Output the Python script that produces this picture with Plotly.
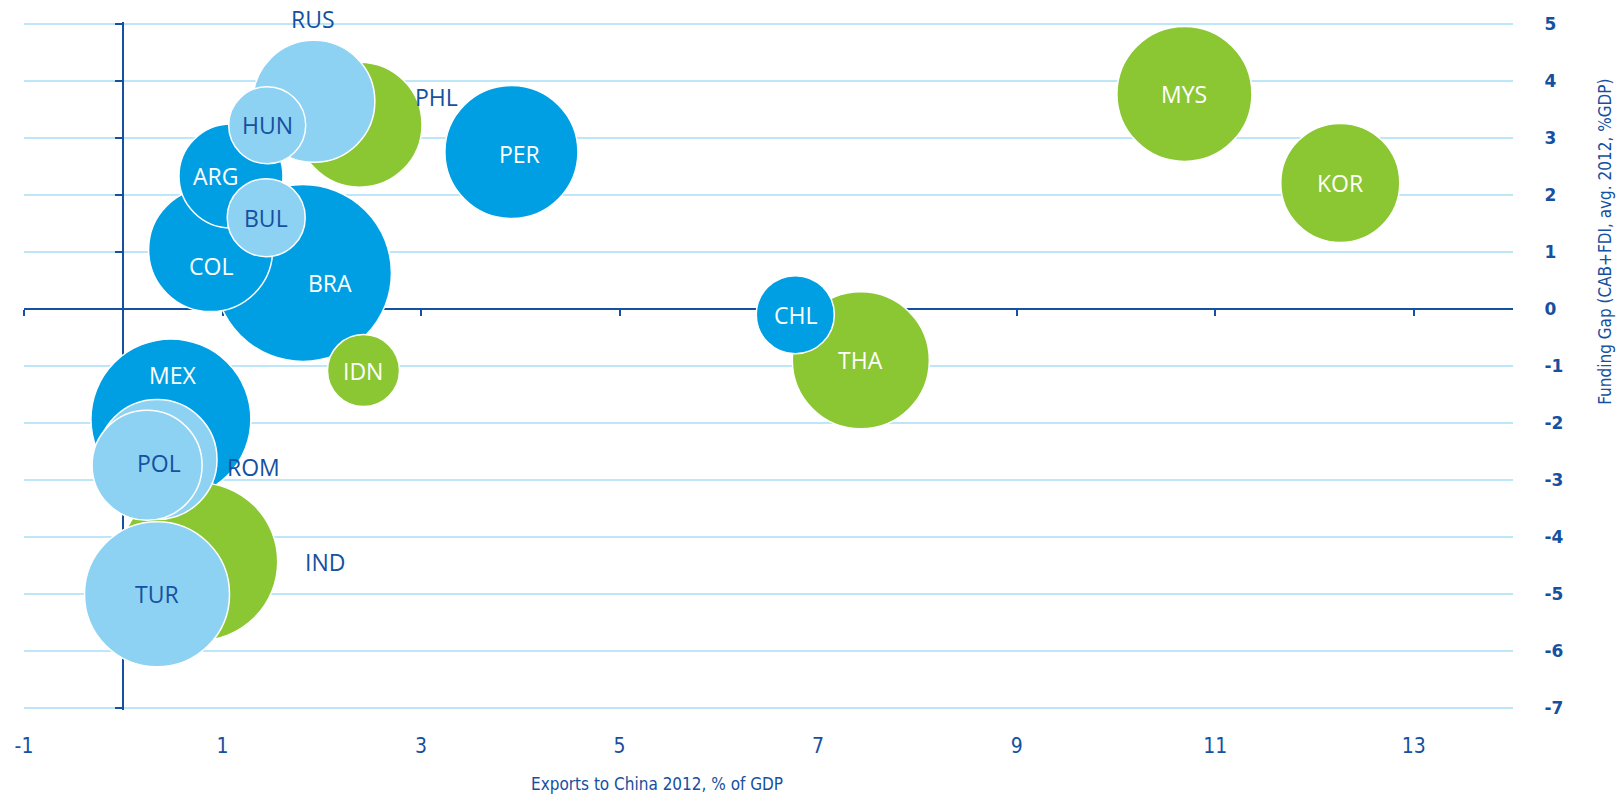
import plotly.graph_objects as go

# Data
countries = ["ARG", "BRA", "CHL", "COL", "MEX", "PER",
             "IDN", "IND", "KOR", "MYS", "PHL", "THA",
             "BUL", "HUN", "POL", "ROM", "RUS", "TUR"]
region = ["LatAm"] * 6 + ["Asia"] * 6 + ["Europe"] * 6
exports_china = [1.085, 1.81, 6.77, 0.88, 0.48, 3.91,
                 2.42, 0.76, 12.26, 10.69, 2.38, 7.43,
                 1.44, 1.45, 0.24, 0.34, 1.92, 0.34]
funding_gap = [2.33, 0.63, -0.10, 1.04, -1.93, 2.75,
               -1.08, -4.43, 2.21, 3.77, 3.23, -0.90,
               1.60, 3.22, -2.74, -2.64, 3.64, -5.00]
bubble = [10.4, 17.7, 7.8, 12.4, 16.0, 13.3,
          7.2, 15.8, 11.9, 13.5, 12.5, 13.7,
          7.8, 7.7, 11.0, 12.0, 12.2, 14.5]

x_ticks = [-1, 1, 3, 5, 7, 9, 11, 13]
x_ticktext = ["-1", "1", "3", "5", "7", "9", "11", "13"]
y_ticks = list(range(-7, 6))
y_ticktext = [str(v) for v in y_ticks]

# Styles
DARK = "#1650a0"
NARROW = "Liberation Sans Narrow, DejaVu Sans Condensed, Roboto Condensed, Roboto"
CLEAR = "rgba(0,0,0,0)"
region_color = {"LatAm": "#009fe3", "Asia": "#8ac732", "Europe": "#8dd2f2"}
# label offsets in px (right, up) for labels not centred in their bubble
label_shift = {"RUS": (-1, 82), "PHL": (77, 28), "ROM": (96, -7), "IND": (126, 0),
               "MEX": (2, 44), "COL": (0, -16), "ARG": (-15, 0), "BRA": (27, -10),
               "POL": (12, 2), "PER": (8, -2)}
outside = {"RUS", "PHL", "ROM", "IND"}

# larger bubbles first so small ones stay visible
order = sorted(range(len(countries)), key=lambda i: -bubble[i])

fig = go.Figure()
fig.add_trace(go.Scatter(
    x=[exports_china[i] for i in order],
    y=[funding_gap[i] for i in order],
    mode="markers",
    marker=dict(
        size=[bubble[i] for i in order],
        sizemode="diameter",
        sizeref=0.1,
        color=[region_color[region[i]] for i in order],
        opacity=1,
        line=dict(color="white", width=1.5),
    ),
    hovertext=[countries[i] for i in order],
    showlegend=False,
))
# carrier for the axis lines crossing at the origin
fig.add_trace(go.Scatter(x=[0], y=[0], xaxis="x2", yaxis="y2", mode="markers",
                         marker=dict(opacity=0), hoverinfo="skip", showlegend=False))

annotations = []
for i, c in enumerate(countries):
    dx, dy = label_shift.get(c, (0, 0))
    if c in outside or region[i] == "Europe":
        col = DARK
    else:
        col = "white"
    annotations.append(dict(
        x=exports_china[i], y=funding_gap[i], xref="x", yref="y",
        text=c, showarrow=False, xshift=dx, yshift=dy,
        font=dict(family="Open Sans", size=23, color=col),
    ))

annotations.append(dict(
    text="Exports to China 2012, % of GDP", xref="paper", yref="paper",
    x=0.425, y=-0.108, showarrow=False, xanchor="center", yanchor="middle",
    font=dict(family=NARROW, size=17, color=DARK),
))
annotations.append(dict(
    text="Funding Gap (CAB+FDI, avg. 2012, %GDP)", xref="paper", yref="paper",
    x=1.062, y=0.681, showarrow=False, textangle=-90,
    xanchor="center", yanchor="middle",
    font=dict(family=NARROW, size=17, color=DARK),
))

YR = [-7.03, 5.03]

fig.update_layout(
    width=1621,
    height=796,
    margin=dict(l=24, r=108, t=22, b=86),
    plot_bgcolor="white",
    paper_bgcolor="white",
    annotations=annotations,
    xaxis=dict(
        range=[-1, 14],
        tickvals=x_ticks,
        ticktext=x_ticktext,
        showgrid=False,
        zeroline=False,
        showline=False,
        ticks="outside",
        ticklen=17,
        tickcolor=CLEAR,
        automargin=False,
        tickfont=dict(family=NARROW, size=21, color=DARK),
    ),
    yaxis=dict(
        range=YR,
        tickvals=y_ticks,
        ticktext=y_ticktext,
        side="right",
        showgrid=True,
        gridcolor="#bde6f8",
        gridwidth=2,
        zeroline=False,
        showline=False,
        ticks="outside",
        ticklen=27,
        tickcolor=CLEAR,
        automargin=False,
        tickfont=dict(family="DejaVu Sans", size=17, color=DARK, weight="bold"),
    ),
    # axis line through y = 0 with ticks below it
    xaxis2=dict(
        overlaying="x",
        anchor="free",
        position=(0 - YR[0]) / (YR[1] - YR[0]),
        range=[-1, 14],
        tickvals=x_ticks,
        ticks="outside",
        ticklen=6,
        tickwidth=2,
        tickcolor=DARK,
        showline=True,
        linecolor=DARK,
        linewidth=2,
        showgrid=False,
        zeroline=False,
        showticklabels=False,
        automargin=False,
        layer="below traces",
    ),
    # axis line through x = 0 with ticks to the left
    yaxis2=dict(
        overlaying="y",
        anchor="free",
        position=1 / 15,
        side="left",
        range=YR,
        tickvals=y_ticks,
        ticks="outside",
        ticklen=7,
        tickwidth=2,
        tickcolor=DARK,
        showline=True,
        linecolor=DARK,
        linewidth=2,
        showgrid=False,
        zeroline=False,
        showticklabels=False,
        automargin=False,
        layer="below traces",
    ),
)

fig.write_html("out.html", config={"displayModeBar": False},
               post_script="document.body.style.margin='0';")
